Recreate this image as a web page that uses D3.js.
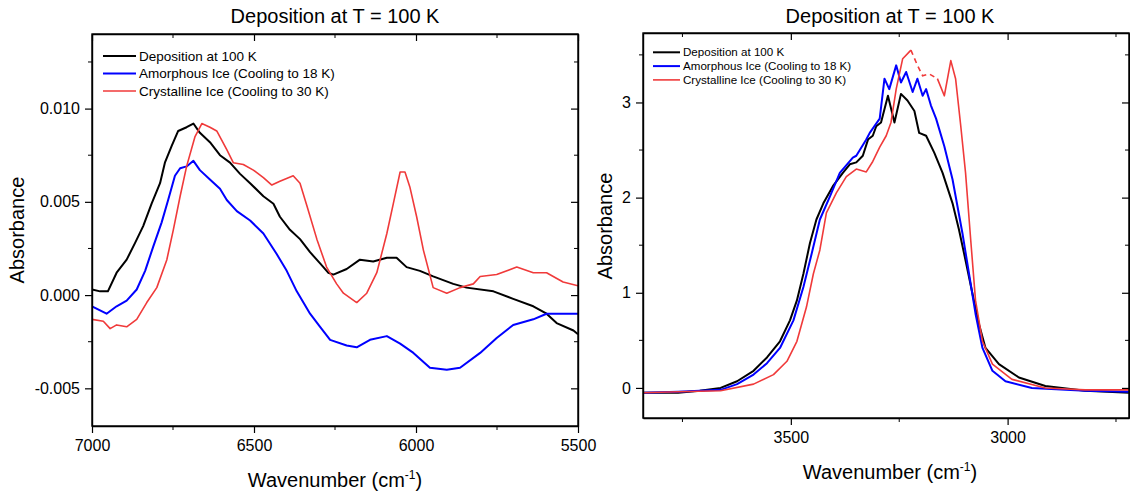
<!DOCTYPE html>
<html>
<head>
<meta charset="utf-8">
<script src="https://cdn.jsdelivr.net/npm/d3@7"></script>
<style>
body { margin: 0; background: #fff; }
svg text { font-family: "Liberation Sans", Arial, sans-serif; fill: #000; }
</style>
</head>
<body>
<svg id="chart" width="1130" height="494"></svg>
<script>
// ---- data ----
var seriesNames = ["Deposition at 100 K", "Amorphous Ice (Cooling to 18 K)", "Crystalline Ice (Cooling to 30 K)"];
var seriesColors = ["#000000", "#0000ff", "#f03a3a"];

// left panel (7000 - 5500 cm-1)
var nirDepWn  = [7000,6975,6951,6924,6893,6867,6842,6816,6790,6775,6754,6734,6708,6687,6667,6636,6605,6574,6543,6512,6471,6440,6420,6389,6358,6327,6296,6271,6255,6214,6173,6132,6090,6060,6029,5988,5947,5885,5844,5761,5700,5638,5597,5566,5514,5500];
var nirDepAbs = [0.0003,0.0002,0.0002,0.0012,0.0019,0.0028,0.0037,0.0049,0.0060,0.0071,0.0080,0.0088,0.0090,0.0092,0.0087,0.0082,0.0075,0.0071,0.0065,0.0060,0.0053,0.0049,0.0042,0.0035,0.0030,0.0023,0.0017,0.0012,0.0011,0.0014,0.0019,0.0018,0.0020,0.0020,0.0015,0.0013,0.0010,0.0006,0.0004,0.0002,-0.0002,-0.0006,-0.0010,-0.0015,-0.0019,-0.0021];

var nirAmoWn  = [7000,6955,6924,6893,6862,6836,6811,6785,6765,6744,6728,6708,6687,6667,6636,6605,6584,6553,6512,6471,6430,6399,6368,6327,6296,6265,6214,6183,6142,6090,6049,6008,5957,5905,5864,5802,5751,5700,5638,5597,5546,5500];
var nirAmoAbs = [-0.0006,-0.0010,-0.0006,-0.0003,0.0003,0.0013,0.0026,0.0039,0.0051,0.0064,0.0068,0.0069,0.0072,0.0067,0.0062,0.0057,0.0051,0.0045,0.0040,0.0033,0.0022,0.0013,0.0002,-0.0010,-0.0017,-0.0024,-0.0027,-0.0028,-0.0024,-0.0022,-0.0026,-0.0031,-0.0039,-0.0040,-0.0039,-0.0031,-0.0023,-0.0016,-0.0013,-0.0010,-0.0010,-0.0010];

var nirCryWn  = [7000,6965,6944,6924,6893,6862,6831,6800,6769,6749,6728,6708,6682,6661,6636,6615,6584,6564,6533,6502,6471,6445,6420,6379,6358,6337,6306,6276,6245,6224,6183,6152,6121,6090,6070,6049,6034,6019,5998,5977,5947,5905,5864,5823,5802,5751,5689,5638,5597,5546,5500];
var nirCryAbs = [-0.0013,-0.0014,-0.0018,-0.0016,-0.0017,-0.0013,-0.0004,0.0004,0.0019,0.0035,0.0053,0.0069,0.0085,0.0092,0.0090,0.0088,0.0078,0.0071,0.0070,0.0067,0.0063,0.0059,0.0061,0.0064,0.0060,0.0048,0.0030,0.0015,0.0006,0.0001,-0.0004,0.0001,0.0012,0.0033,0.0049,0.0066,0.0066,0.0058,0.0042,0.0024,0.0004,0.0001,0.0004,0.0006,0.0010,0.0011,0.0015,0.0012,0.0012,0.0007,0.0005];

// right panel (3840 - 2720 cm-1)
var midDepWn  = [3840,3760,3710,3662,3624,3586,3555,3525,3502,3486,3471,3456,3441,3425,3403,3380,3364,3349,3334,3322,3311,3303,3292,3276,3261,3246,3231,3215,3204,3188,3169,3150,3127,3112,3097,3081,3066,3051,3020,2974,2913,2821,2720];
var midDepAbs = [-0.05,-0.05,-0.03,0.00,0.07,0.18,0.32,0.49,0.71,0.92,1.20,1.52,1.77,1.94,2.12,2.26,2.35,2.37,2.44,2.61,2.65,2.75,2.79,3.07,2.79,3.09,3.02,2.91,2.68,2.65,2.47,2.26,1.94,1.66,1.34,0.99,0.67,0.42,0.25,0.11,0.02,-0.03,-0.05];

var midAmoWn  = [3840,3760,3710,3662,3624,3586,3555,3525,3494,3471,3452,3433,3410,3387,3357,3349,3326,3318,3295,3284,3273,3257,3246,3234,3219,3208,3196,3188,3177,3165,3146,3127,3104,3089,3074,3058,3035,3005,2944,2821,2720];
var midAmoAbs = [-0.05,-0.04,-0.03,-0.02,0.04,0.14,0.26,0.42,0.71,1.06,1.41,1.77,2.01,2.26,2.42,2.44,2.61,2.68,2.83,3.25,3.14,3.39,3.21,3.32,3.11,3.25,3.07,3.14,2.97,2.83,2.54,2.19,1.62,1.20,0.78,0.42,0.18,0.07,0.00,-0.03,-0.04];

var midCryWn  = [3840,3760,3662,3586,3540,3509,3486,3464,3448,3433,3418,3395,3372,3349,3326,3311,3295,3280,3269,3257,3242,3223,3208,3196,3181,3162,3146,3131,3120,3108,3097,3085,3074,3058,3035,2990,2913,2821,2720];
var midCryAbs = [-0.05,-0.04,-0.03,0.04,0.14,0.28,0.49,0.85,1.20,1.45,1.84,2.05,2.22,2.30,2.27,2.38,2.53,2.65,2.79,3.14,3.46,3.55,3.39,3.28,3.30,3.25,3.07,3.44,3.25,2.75,2.26,1.55,0.92,0.49,0.25,0.09,0.00,-0.02,-0.02];
// stretch of the red curve that shows as a broken (dashed) trace
var midCryBroken = [3223, 3162];

// tick values
var nirXTicks = [7000, 6500, 6000, 5500], nirXMinor = [6750, 6250, 5750];
var nirYTicks = [-0.005, 0, 0.005, 0.010], nirYMinor = [-0.0025, 0.0025, 0.0075, 0.0125];
var midXTicks = [3500, 3000], midXMinor = [3750, 3250, 2750];
var midYTicks = [0, 1, 2, 3], midYMinor = [0.5, 1.5, 2.5, 3.5];

var svg = d3.select("#chart");

function zip(wn, ab) { return wn.map(function(w, i) { return [w, ab[i]]; }); }

function drawPanel(p) {
    var x = d3.scaleLinear().domain(p.xDomain).range([p.left, p.right]),
        y = d3.scaleLinear().domain(p.yDomain).range([p.bottom, p.top]);

    var g = svg.append("g");

    g.append("clipPath").attr("id", p.id + "-clip")
        .append("rect").attr("x", p.left).attr("y", p.top)
        .attr("width", p.right - p.left).attr("height", p.bottom - p.top);

    // curves
    var lines = g.append("g").attr("clip-path", "url(#" + p.id + "-clip)");
    p.series.forEach(function(s, i) {
        var br = i == 2 ? p.broken : null;
        var inBroken = function(d) { return br && d[0] < br[0] && d[0] > br[1]; };
        var solid = d3.line()
            .defined(function(d) { return !inBroken(d); })
            .x(function(d) { return x(d[0]); }).y(function(d) { return y(d[1]); });
        lines.append("path").datum(s)
            .attr("fill", "none")
            .attr("stroke", seriesColors[i])
            .attr("stroke-width", i == 2 ? 1.6 : 2)
            .attr("stroke-linejoin", "round")
            .attr("d", solid);
        if (br) {
            var part = s.filter(function(d) { return d[0] <= br[0] && d[0] >= br[1]; });
            lines.append("path").datum(part)
                .attr("fill", "none")
                .attr("stroke", seriesColors[i])
                .attr("stroke-width", 1.6)
                .attr("stroke-dasharray", "5,4")
                .attr("d", d3.line().x(function(d) { return x(d[0]); }).y(function(d) { return y(d[1]); }));
        }
    });

    var yMinor = p.yMinor.filter(function(v) { return v <= p.yDomain[1] && v >= p.yDomain[0]; });

    // axes: bottom/left ticks outward, top/right mirrored inward
    var bottom = g.append("g").attr("transform", "translate(0," + p.bottom + ")")
        .call(d3.axisBottom(x).tickValues(p.xTicks).tickFormat(d3.format("d"))
            .tickSize(7).tickSizeOuter(0).tickPadding(7));
    bottom.selectAll(".minor").data(p.xMinor).enter().append("line")
        .attr("x1", x).attr("x2", x).attr("y1", 0).attr("y2", 4).attr("stroke", "#000");

    var left = g.append("g").attr("transform", "translate(" + p.left + ",0)")
        .call(d3.axisLeft(y).tickValues(p.yTicks).tickFormat(p.yFormat)
            .tickSize(7).tickSizeOuter(0).tickPadding(5));
    left.selectAll(".minor").data(yMinor).enter().append("line")
        .attr("y1", y).attr("y2", y).attr("x1", 0).attr("x2", -4).attr("stroke", "#000");

    var top = g.append("g").attr("transform", "translate(0," + p.top + ")")
        .call(d3.axisTop(x).tickValues(p.xTicks).tickSize(-7).tickSizeOuter(0).tickFormat(""));
    top.selectAll(".minor").data(p.xMinor).enter().append("line")
        .attr("x1", x).attr("x2", x).attr("y1", 0).attr("y2", 4).attr("stroke", "#000");

    var right = g.append("g").attr("transform", "translate(" + p.right + ",0)")
        .call(d3.axisRight(y).tickValues(p.yTicks).tickSize(-7).tickSizeOuter(0).tickFormat(""));
    right.selectAll(".minor").data(yMinor).enter().append("line")
        .attr("y1", y).attr("y2", y).attr("x1", 0).attr("x2", -4).attr("stroke", "#000");

    [bottom, left, top, right].forEach(function(a) {
        a.select(".domain").attr("stroke-width", 1.4);
        a.selectAll(".tick line").attr("stroke-width", 1.2);
        a.selectAll("text").style("font-size", "16px").style("font-family", "'Liberation Sans', Arial, sans-serif");
    });

    // frame
    g.append("rect").attr("x", p.left).attr("y", p.top)
        .attr("width", p.right - p.left).attr("height", p.bottom - p.top)
        .attr("fill", "none").attr("stroke", "#000").attr("stroke-width", 1.4);

    // titles
    g.append("text").attr("x", (p.left + p.right) / 2 + p.titleDx).attr("y", 23)
        .attr("text-anchor", "middle").style("font-size", "20px")
        .text("Deposition at T = 100 K");

    var xt = g.append("text").attr("x", (p.left + p.right) / 2 + p.xTitleDx).attr("y", p.xTitleY)
        .attr("text-anchor", "middle").style("font-size", "20px");
    xt.append("tspan").text("Wavenumber (cm");
    xt.append("tspan").attr("dy", -8).style("font-size", "12px").text("-1");
    xt.append("tspan").attr("dy", 8).text(")");

    g.append("text")
        .attr("transform", "translate(" + p.yTitleX + "," + p.yTitleY + ") rotate(-90)")
        .attr("text-anchor", "middle").style("font-size", "20px")
        .text("Absorbance");

    // legend
    var lg = g.append("g");
    seriesNames.forEach(function(name, i) {
        var ly = p.legY + i * p.legStep;
        lg.append("line").attr("x1", p.legX).attr("x2", p.legX + p.legLen)
            .attr("y1", ly).attr("y2", ly)
            .attr("stroke", seriesColors[i]).attr("stroke-width", i == 2 ? 1.6 : 2);
        lg.append("text").attr("x", p.legX + p.legLen + 3).attr("y", ly)
            .attr("dy", "0.35em").style("font-size", p.legFont + "px").text(name);
    });
}

drawPanel({
    id: "nir",
    left: 92, right: 578, top: 34, bottom: 426,
    xDomain: [7000, 5500], yDomain: [-0.00702, 0.0140],
    xTicks: nirXTicks, xMinor: nirXMinor, yTicks: nirYTicks, yMinor: nirYMinor,
    yFormat: function(d) { return d.toFixed(3); },
    series: [zip(nirDepWn, nirDepAbs), zip(nirAmoWn, nirAmoAbs), zip(nirCryWn, nirCryAbs)],
    broken: null,
    titleDx: 0, xTitleDx: 0, xTitleY: 487, yTitleX: 24, yTitleY: 230,
    legX: 103, legY: 56, legStep: 17.5, legLen: 33, legFont: 13.5
});

drawPanel({
    id: "mid",
    left: 643, right: 1129, top: 33, bottom: 418,
    xDomain: [3841, 2720], yDomain: [-0.316, 3.73],
    xTicks: midXTicks, xMinor: midXMinor, yTicks: midYTicks, yMinor: midYMinor,
    yFormat: d3.format("d"),
    series: [zip(midDepWn, midDepAbs), zip(midAmoWn, midAmoAbs), zip(midCryWn, midCryAbs)],
    broken: midCryBroken,
    titleDx: 4, xTitleDx: 4, xTitleY: 479, yTitleX: 612, yTitleY: 226,
    legX: 653, legY: 52.3, legStep: 13.8, legLen: 27, legFont: 11.6
});
</script>
</body>
</html>
